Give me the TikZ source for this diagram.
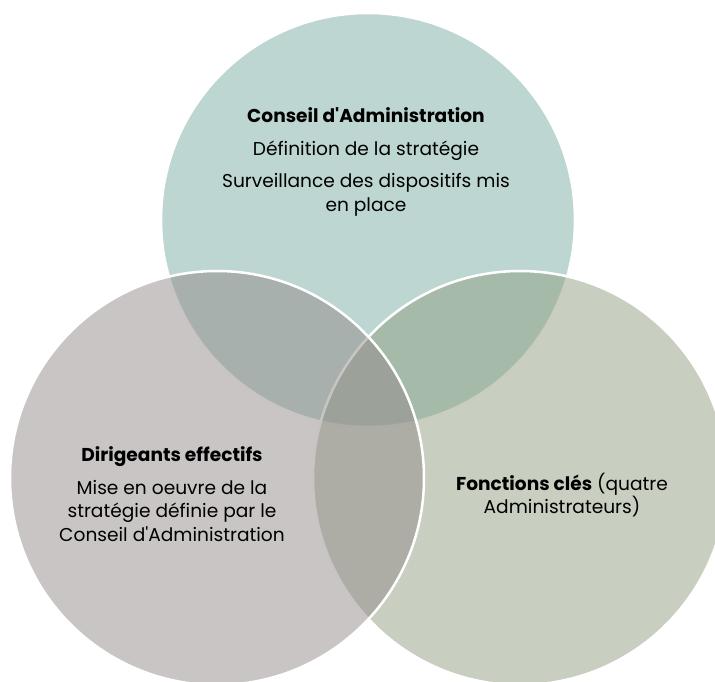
\documentclass[tikz,border=0pt]{standalone}
\usepackage{fontspec}
\setmainfont{Poppins}
\definecolor{cacol}{RGB}{123,173,163}
\definecolor{decol}{RGB}{147,139,139}
\definecolor{fccol}{RGB}{145,159,131}
\tikzset{
  bubble/.style={draw=white,line width=2.5pt,fill opacity=0.5,draw opacity=1},
  label/.style={align=center,inner sep=0pt,font=\fontsize{18.6}{23.5}\selectfont}
}
\begin{document}
\begin{tikzpicture}[x=1pt,y=-1pt]
			\useasboundingbox (0,0) rectangle (715,682);
			\draw[bubble,fill=cacol] (368,220) circle (207pt);
			\draw[bubble,fill=fccol] (520,478) circle (207pt);
			\draw[bubble,fill=decol] (217,478) circle (207pt);

			\node[label] (ca) at (366,162) {\textbf{Conseil d\textquotesingle Administration}\\[9pt]D\'efinition de la strat\'egie\\[9pt]Surveillance des dispositifs mis\\en place};
			\node[label] (de) at (172,494) {\textbf{Dirigeants effectifs}\\[9pt]Mise en oeuvre de la\\strat\'egie d\'efinie par le\\Conseil d\textquotesingle Administration};
			\node[label] (fc) at (562,495) {\textbf{Fonctions cl\'es} (quatre\\Administrateurs)};
		\end{tikzpicture}
\end{document}
